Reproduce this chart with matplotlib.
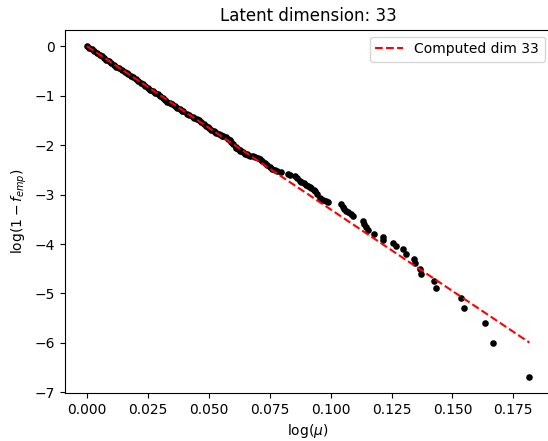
import numpy as np
import matplotlib
matplotlib.use("Agg")
import matplotlib.pyplot as plt

dim = 33

log_mu = [0.000, 0.001, 0.002, 0.003, 0.004, 0.0053, 0.006, 0.007, 0.008, 0.009,
          0.010, 0.011, 0.012, 0.013, 0.0145, 0.0155, 0.0163, 0.017, 0.018, 0.019,
          0.020, 0.021, 0.022, 0.023, 0.024, 0.025, 0.0258, 0.027, 0.028, 0.029,
          0.030, 0.031, 0.032, 0.033, 0.034, 0.035, 0.036, 0.037, 0.038, 0.039,
          0.0395, 0.0409, 0.042, 0.0435, 0.044, 0.045, 0.046, 0.047, 0.048, 0.049,
          0.0495, 0.050, 0.051, 0.052, 0.0525, 0.053, 0.054, 0.055, 0.0555, 0.056,
          0.057, 0.058, 0.0585, 0.059, 0.060, 0.061, 0.0613, 0.062, 0.0627, 0.063,
          0.064, 0.065, 0.0655, 0.066, 0.067, 0.068, 0.069, 0.070, 0.0709, 0.072,
          0.073, 0.074, 0.075, 0.076, 0.077, 0.078, 0.0798, 0.0825, 0.0835, 0.0852,
          0.086, 0.0873, 0.088, 0.089, 0.090, 0.0907, 0.0915, 0.092, 0.093, 0.0934,
          0.0945, 0.0955, 0.096, 0.097, 0.098, 0.0989,
          0.1044, 0.105, 0.1057, 0.1065, 0.1071, 0.1085, 0.1092, 0.1132, 0.1139, 0.1146,
          0.1153, 0.118, 0.1214, 0.1217, 0.1256, 0.1268, 0.1297, 0.131, 0.1342, 0.1345,
          0.1365, 0.1373, 0.1424, 0.1431, 0.1536, 0.1549, 0.1635, 0.1665, 0.1816]
log_f = [0.00, -0.03, -0.06, -0.10, -0.13, -0.17, -0.20, -0.23, -0.27, -0.30,
         -0.34, -0.37, -0.41, -0.44, -0.49, -0.52, -0.55, -0.57, -0.60, -0.63,
         -0.67, -0.70, -0.74, -0.77, -0.81, -0.85, -0.88, -0.91, -0.94, -0.97,
         -1.00, -1.04, -1.08, -1.12, -1.15, -1.17, -1.20, -1.24, -1.27, -1.30,
         -1.32, -1.37, -1.40, -1.43, -1.45, -1.47, -1.50, -1.54, -1.58, -1.62,
         -1.64, -1.66, -1.69, -1.72, -1.73, -1.75, -1.77, -1.80, -1.81, -1.82,
         -1.84, -1.88, -1.90, -1.93, -1.97, -2.03, -2.05, -2.07, -2.10, -2.11,
         -2.14, -2.17, -2.18, -2.19, -2.21, -2.23, -2.25, -2.27, -2.29, -2.33,
         -2.37, -2.41, -2.45, -2.48, -2.50, -2.52, -2.55, -2.59, -2.60, -2.62,
         -2.66, -2.72, -2.74, -2.77, -2.80, -2.82, -2.85, -2.87, -2.90, -2.92,
         -2.98, -3.06, -3.08, -3.11, -3.14, -3.16,
         -3.19, -3.26, -3.30, -3.33, -3.36, -3.40, -3.43, -3.53, -3.59, -3.66,
         -3.71, -3.80, -3.86, -3.92, -3.98, -4.05, -4.11, -4.21, -4.30, -4.38,
         -4.50, -4.61, -4.75, -4.88, -5.09, -5.30, -5.59, -6.00, -6.68]

x = np.array(log_mu)
y = np.array(log_f)

fig = plt.figure(figsize=(5.48, 4.41), dpi=100)
ax = fig.add_axes([0.1184, 0.1088, 0.888, 0.8238])

ax.scatter(x, y, s=14, color="black")
xs = np.array([0, x.max()])
ax.plot(xs, -dim * xs, "r--", label=f"Computed dim {dim}")

ax.set_title(f"Latent dimension: {dim}")
ax.set_xlabel(r"$\log(\mu)$")
ax.set_ylabel(r"$\log(1-f_{emp})$")
ax.legend(loc="upper right")

fig.savefig("out.png", dpi=100)
